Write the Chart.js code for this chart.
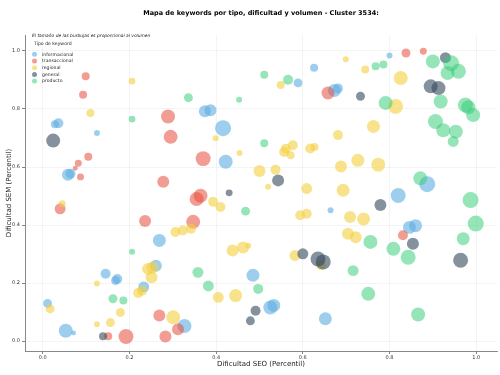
<!DOCTYPE html>
<html>
<head>
<meta charset="utf-8">
<script src="https://cdn.jsdelivr.net/npm/chart.js@4.4.0/dist/chart.umd.min.js"></script>
<style>
  html, body { margin: 0; padding: 0; background: #fff; }
</style>
</head>
<body>
<canvas id="keywordChart" width="500" height="375"></canvas>
<script>
// categories (legend order)
const categories = ['informacional', 'transaccional', 'regional', 'general', 'producto'];
const colors = ['rgba(93,173,226,0.6)', 'rgba(231,76,60,0.55)', 'rgba(244,208,63,0.6)', 'rgba(52,73,94,0.6)', 'rgba(46,204,113,0.5)'];
const xTicks = [0, 0.2, 0.4, 0.6, 0.8, 1.0];

// Dificultad SEO (x), Dificultad SEM (y), volumen
const infoX = [0.036,0.028,0.125,0.058,0.064,0.374,0.387,0.416,0.422,0.626,0.589,0.673,0.681,0.800,0.887,0.820,0.664,0.846,0.860,0.485,0.525,0.533,0.652,0.269,0.261,0.145,0.172,0.168,0.233,0.011,0.053,0.071,0.327];
const infoY = [0.751,0.747,0.717,0.573,0.577,0.792,0.796,0.734,0.618,0.942,0.890,0.864,0.871,0.984,0.541,0.502,0.451,0.392,0.398,0.227,0.116,0.123,0.077,0.347,0.260,0.232,0.214,0.209,0.187,0.130,0.036,0.028,0.052];
const infoVol = [2500,1600,900,3600,2500,3600,3600,6400,4900,1600,2000,4200,2500,900,6400,5600,900,4200,4200,4200,4900,4200,4200,4200,3600,2500,2500,2000,3000,2000,4900,600,4900];

const transX = [0.099,0.093,0.289,0.295,0.105,0.082,0.075,0.087,0.278,0.370,0.355,0.364,0.658,0.838,0.878,0.831,0.040,0.236,0.347,0.269,0.283,0.312,0.151,0.192];
const transY = [0.913,0.849,0.774,0.704,0.635,0.613,0.596,0.566,0.549,0.629,0.490,0.501,0.855,0.993,0.999,0.365,0.456,0.414,0.411,0.088,0.016,0.041,0.017,0.016];
const transVol = [1600,1600,4900,4900,1600,1200,600,1200,3600,5600,4900,4900,4200,2000,1200,2500,3000,3600,4900,3600,3600,3600,1600,5600];

const regX = [0.206,0.110,0.399,0.454,0.500,0.549,0.699,0.744,0.826,0.814,0.763,0.681,0.557,0.561,0.577,0.572,0.617,0.627,0.393,0.410,0.537,0.520,0.609,0.688,0.727,0.774,0.693,0.045,0.306,0.323,0.342,0.243,0.253,0.251,0.125,0.229,0.220,0.017,0.179,0.156,0.125,0.301,0.438,0.462,0.474,0.405,0.445,0.594,0.609,0.709,0.740,0.704,0.722,0.582,0.642];
const regY = [0.896,0.786,0.699,0.648,0.586,0.883,0.971,0.936,0.907,0.809,0.740,0.710,0.652,0.663,0.675,0.641,0.664,0.669,0.480,0.462,0.591,0.532,0.526,0.602,0.623,0.608,0.520,0.474,0.376,0.381,0.387,0.249,0.254,0.220,0.199,0.174,0.166,0.111,0.099,0.064,0.058,0.082,0.312,0.323,0.329,0.151,0.157,0.434,0.439,0.428,0.421,0.370,0.358,0.295,0.262];
const regVol = [1100,1600,900,900,3600,1600,900,1600,4900,5600,4200,2500,2500,2500,2500,1600,2500,1600,2500,2500,2500,900,3000,3600,4200,4900,4200,1200,2500,2500,2500,3600,3600,3600,900,2500,2500,2000,2000,2000,900,4900,3600,3600,900,3000,4200,2500,2500,3600,4200,3600,3600,3000,2500];

const genX = [0.024,0.430,0.543,0.733,0.929,0.895,0.913,0.779,0.854,0.964,0.600,0.635,0.647,0.491,0.479,0.139];
const genY = [0.691,0.511,0.554,0.844,0.977,0.878,0.872,0.469,0.336,0.279,0.301,0.283,0.273,0.105,0.070,0.017];
const genVol = [4900,1200,3600,2000,3000,4900,4900,3600,3600,5600,3000,5600,5600,2500,2000,1600];

const prodX = [0.206,0.336,0.453,0.511,0.566,0.511,0.468,0.768,0.786,0.900,0.942,0.934,0.959,0.791,0.918,0.975,0.982,0.993,0.906,0.924,0.953,0.947,0.871,0.987,0.999,0.970,0.756,0.809,0.843,0.716,0.751,0.866,0.358,0.382,0.497,0.162,0.186,0.206];
const prodY = [0.765,0.839,0.832,0.918,0.901,0.682,0.448,0.947,0.953,0.964,0.958,0.924,0.930,0.821,0.826,0.814,0.806,0.779,0.757,0.727,0.722,0.688,0.561,0.486,0.405,0.353,0.342,0.318,0.289,0.243,0.163,0.092,0.237,0.190,0.180,0.146,0.140,0.308];
const prodVol = [1100,2000,900,1600,2500,1600,2000,1600,1600,4900,6400,4900,5600,4900,4900,5600,4900,4900,5600,4900,4900,3000,4900,6400,6400,4200,4900,4900,5600,3000,4900,4900,3000,3000,2500,2000,1600,900];

const seriesX = [infoX, transX, regX, genX, prodX];
const seriesY = [infoY, transY, regY, genY, prodY];
const seriesVol = [infoVol, transVol, regVol, genVol, prodVol];

// bubble radius proportional to sqrt(volume)
const toPoints = (xs, ys, vols) => xs.map((x, i) => ({ x: x, y: ys[i], r: Math.sqrt(vols[i]) / 10 }));

const datasets = categories.map((name, i) => ({
  label: name,
  data: toPoints(seriesX[i], seriesY[i], seriesVol[i]),
  backgroundColor: colors[i],
  borderWidth: 0,
  order: categories.length - i // later categories drawn on top
}));

const FONT = "'DejaVu Sans', sans-serif";

// title, note and legend drawn inside the plot, like the original
const decorPlugin = {
  id: 'decor',
  afterDraw(chart) {
    const ctx = chart.ctx;
    const area = chart.chartArea;
    ctx.save();
    ctx.fillStyle = '#000';
    ctx.textAlign = 'center';
    ctx.textBaseline = 'middle';
    ctx.font = 'bold 6.5px ' + FONT;
    ctx.fillText('Mapa de keywords por tipo, dificultad y volumen - Cluster 3534:', (area.left + area.right) / 2, 13.5);

    ctx.textAlign = 'left';
    ctx.fillStyle = '#222';
    ctx.font = 'italic 4.4px ' + FONT;
    ctx.fillText('El tamaño de las burbujas es proporcional al volumen', 32, 36);
    ctx.font = '4.6px ' + FONT;
    ctx.fillText('Tipo de keyword', 34, 43.5);

    chart.data.datasets.forEach((ds, i) => {
      const y = 54.3 + i * 6.7;
      ctx.fillStyle = ds.backgroundColor;
      ctx.beginPath();
      ctx.arc(34.5, y, 2.5, 0, Math.PI * 2);
      ctx.fill();
      ctx.fillStyle = '#222';
      ctx.fillText(ds.label, 42, y);
    });
    ctx.restore();
  }
};

new Chart(document.getElementById('keywordChart'), {
  type: 'bubble',
  data: { datasets: datasets },
  plugins: [decorPlugin],
  options: {
    responsive: false,
    animation: false,
    layout: { autoPadding: false, padding: { top: 35, right: 3, left: 0, bottom: 0 } },
    plugins: {
      legend: { display: false },
      title: { display: false },
      tooltip: { enabled: false }
    },
    scales: {
      x: {
        type: 'linear',
        min: -0.041,
        max: 1.048,
        afterFit: s => { s.height = 24; },
        afterBuildTicks: s => { s.ticks = xTicks.map(v => ({ value: v })); },
        ticks: {
          callback: v => v.toFixed(1),
          font: { family: FONT, size: 5 },
          color: '#333',
          padding: 1,
          maxRotation: 0
        },
        grid: { color: 'rgba(0,0,0,0.06)', lineWidth: 0.8, tickLength: 3, tickColor: '#666', tickWidth: 0.8 },
        border: { color: '#888', width: 1 },
        title: { display: true, text: 'Dificultad SEO (Percentil)', font: { family: FONT, size: 7 }, color: '#222', padding: { top: 2, bottom: 7 } }
      },
      y: {
        type: 'linear',
        min: -0.034,
        max: 1.055,
        afterFit: s => { s.width = 25; },
        afterBuildTicks: s => { s.ticks = xTicks.map(v => ({ value: v })); },
        ticks: {
          callback: v => v.toFixed(1),
          font: { family: FONT, size: 5 },
          color: '#333',
          padding: 2
        },
        grid: { color: 'rgba(0,0,0,0.06)', lineWidth: 0.8, tickLength: 3, tickColor: '#666', tickWidth: 0.8 },
        border: { color: '#888', width: 1 },
        title: { display: true, text: 'Dificultad SEM (Percentil)', font: { family: FONT, size: 7 }, color: '#222', padding: { top: 5, bottom: 2 } }
      }
    }
  }
});
</script>
</body>
</html>
